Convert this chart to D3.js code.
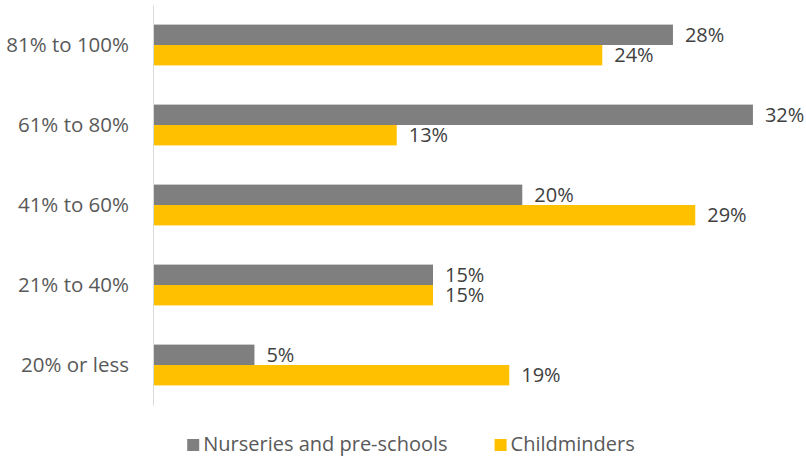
<!DOCTYPE html>
<html lang="en">
<head>
<meta charset="utf-8">
<title>Grouped bar chart</title>
<script src="https://cdn.jsdelivr.net/npm/d3@7"></script>
<style>
  body { margin: 0; background: #fff; }
  svg { display: block; font-family: "Open Sans", "Liberation Sans", sans-serif; }
</style>
</head>
<body>
<svg width="806" height="457"></svg>
<script>
// categories, top to bottom
var categories = ["81% to 100%", "61% to 80%", "41% to 60%", "21% to 40%", "20% or less"];
var seriesNames = ["Nurseries and pre-schools", "Childminders"];
var seriesColors = ["#7f7f7f", "#ffc000"];
// values (labels show them rounded)
var nurseries = [27.9, 32.2, 19.8, 15.0, 5.4];
var childminders = [24.1, 13.05, 29.1, 15.0, 19.1];

var svg = d3.select("svg");

var x = d3.scaleLinear()
    .domain([0, 35])
    .range([154, 154 + 35 * 18.6]);

var y = d3.scaleBand()
    .domain(categories)
    .range([5, 405])
    .paddingInner(0.49)
    .paddingOuter(0.245);

var ySub = d3.scaleBand()
    .domain(seriesNames)
    .range([0, y.bandwidth()]);

var rows = categories.map(function (c, i) {
    return { cat: c, vals: [nurseries[i], childminders[i]] };
});

var fmt = d3.format(".0f");

var groups = svg.selectAll("g.row")
    .data(rows)
    .enter()
    .append("g")
    .attr("class", "row")
    .attr("transform", function (d) { return "translate(0," + y(d.cat) + ")"; });

var bars = groups.selectAll("g.bar")
    .data(function (d) {
        return d.vals.map(function (v, j) { return { s: seriesNames[j], v: v, j: j }; });
    })
    .enter()
    .append("g")
    .attr("class", "bar");

bars.append("rect")
    .attr("x", x(0))
    .attr("y", function (d) { return ySub(d.s); })
    .attr("width", function (d) { return x(d.v) - x(0); })
    .attr("height", ySub.bandwidth())
    .attr("fill", function (d) { return seriesColors[d.j]; });

bars.append("text")
    .attr("x", function (d) { return x(d.v) + 12; })
    .attr("y", function (d) { return ySub(d.s) + ySub.bandwidth() / 2; })
    .attr("dy", "0.36em")
    .attr("fill", "#404040")
    .attr("font-size", 20)
    .text(function (d) { return fmt(d.v) + "%"; });

// category axis
var axis = svg.append("g")
    .attr("transform", "translate(153,0)")
    .call(d3.axisLeft(y).tickSize(0).tickSizeOuter(0).tickPadding(24));

axis.select(".domain").attr("stroke", "#d9d9d9");
axis.selectAll("text")
    .attr("fill", "#595959")
    .attr("font-size", 20.5)
    .attr("font-family", "\"Open Sans\", \"Liberation Sans\", sans-serif");

// legend
var legend = svg.append("g");
var items = legend.selectAll("g")
    .data(seriesNames)
    .enter()
    .append("g");

items.append("rect")
    .attr("x", 0)
    .attr("y", 439)
    .attr("width", 12)
    .attr("height", 12)
    .attr("fill", function (d, i) { return seriesColors[i]; });

items.append("text")
    .attr("x", 16)
    .attr("y", 451)
    .attr("fill", "#595959")
    .attr("font-size", 20)
    .text(function (d) { return d; });

var offset = 0;
var widths = [];
items.each(function () {
    widths.push(16 + d3.select(this).select("text").node().getComputedTextLength());
});
var gap = 47;
var total = d3.sum(widths) + gap * (widths.length - 1);
var start = 411 - total / 2;
items.attr("transform", function (d, i) {
    var t = "translate(" + (start + offset) + ",0)";
    offset += widths[i] + gap;
    return t;
});
</script>
</body>
</html>
